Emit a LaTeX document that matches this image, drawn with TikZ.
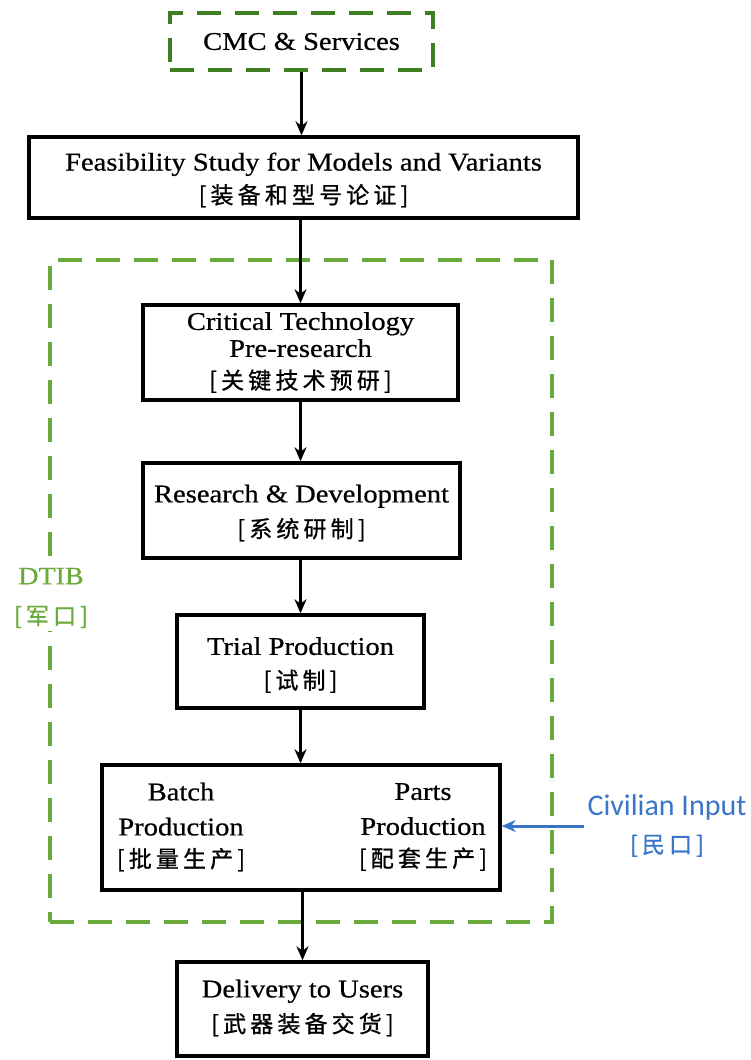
\documentclass[tikz,border=0pt]{standalone}
\usepackage{fontspec}
\setmainfont[FakeStretch=1.12,FakeBold=0.6]{Liberation Serif}
\newfontfamily\cjk[LetterSpace=18,FakeBold=0.8]{Noto Sans CJK SC}
\newfontfamily\civfont{Carlito}
\usetikzlibrary{arrows.meta}

\definecolor{dtibgreen}{HTML}{6AAA3A}
\definecolor{cmcgreen}{HTML}{3F7F22}
\definecolor{civblue}{HTML}{3A75C9}

\newcommand\zh[1]{{\fontsize{23}{30}\selectfont\cjk #1}}

\begin{document}
\begin{tikzpicture}[x=1pt,y=-1pt,
  stage/.style={draw=black, line width=3.5pt, fill=white, align=center,
    inner sep=0pt, font=\fontsize{25.5}{34}\selectfont},
  label/.style={align=center, inner sep=0pt, font=\fontsize{25.5}{35}\selectfont},
  flow/.style={-{Stealth[length=14pt,width=12pt]}, line width=3pt},
  greenbox/.style={draw=#1, line width=4pt, dash pattern=on 24pt off 14pt},
]
\useasboundingbox (0,0) rectangle (751,1060);

% outer group of defence-industry stages
\node[greenbox=dtibgreen, minimum width=502pt, minimum height=662pt] (dtib) at (301,591) {};
\node[fill=white, text=dtibgreen, align=center, inner sep=3pt,
  font=\fontsize{25}{40}\selectfont] (dtiblabel) at (51,598) {DTIB\\\zh{[军口]}};

% top-level customer
\node[greenbox=cmcgreen, minimum width=263pt, minimum height=57pt,
  font=\fontsize{25.5}{30}\selectfont] (cmc) at (301.5,41.5) {CMC \& Services};

% stages
\node[stage, minimum width=549pt, minimum height=81pt] (feas) at (303.5,177.5) {};
\node[align=center, inner sep=0pt, font=\fontsize{25.5}{33}\selectfont] (feastext) at (303.5,180)
  {Feasibility Study for Models and Variants\\\zh{[装备和型号论证]}};
\node[stage, minimum width=315pt, minimum height=95pt] (crit) at (300.5,352.5)
  {Critical Technology\\[-7pt]Pre-research\\[-2pt]\zh{[关键技术预研]}};
\node[stage, minimum width=317pt, minimum height=95pt] (rnd) at (301.5,510.5) {};
\node[align=center, inner sep=0pt, font=\fontsize{25.5}{35}\selectfont] (rndtext) at (301.5,513)
  {Research \& Development\\\zh{[系统研制]}};
\node[stage, minimum width=247pt, minimum height=93pt] (trial) at (300.5,661.5) {};
\node[align=center, inner sep=0pt, font=\fontsize{25.5}{34}\selectfont] (trialtext) at (300.5,665)
  {Trial Production\\\zh{[试制]}};
\node[stage, minimum width=398pt, minimum height=125pt] (batch) at (301,827.5) {};
\node[label] (batchL) at (181,827) {Batch\\Production\\[-3pt]\zh{[批量生产]}};
\node[label] (batchR) at (423,827) {Parts\\Production\\[-3pt]\zh{[配套生产]}};
\node[stage, minimum width=251pt, minimum height=94pt] (deliv) at (302.5,1009) {};
\node[align=center, inner sep=0pt, font=\fontsize{25.5}{35}\selectfont] (delivtext) at (302.5,1008)
  {Delivery to Users\\\zh{[武器装备交货]}};

% civilian supply
\node[text=civblue, align=center, inner sep=0pt,
  font=\civfont\fontsize{30}{37}\selectfont] (civ) at (667,826)
  {Civilian Input\\\zh{[民口]}};

% connectors
\draw[flow] (cmc.south) -- (cmc.south |- feas.north);
\draw[flow] (feas.south -| crit.north) -- (crit.north);
\draw[flow] (crit.south) -- (crit.south |- rnd.north);
\draw[flow] (rnd.south -| trial.north) -- (trial.north);
\draw[flow] (trial.south) -- (trial.south |- batch.north);
\draw[flow] (batch.south -| deliv.north) -- (deliv.north);
\draw[flow, civblue] ([xshift=-3pt]civ.west) -- (civ.west -| batch.east);
\end{tikzpicture}
\end{document}
